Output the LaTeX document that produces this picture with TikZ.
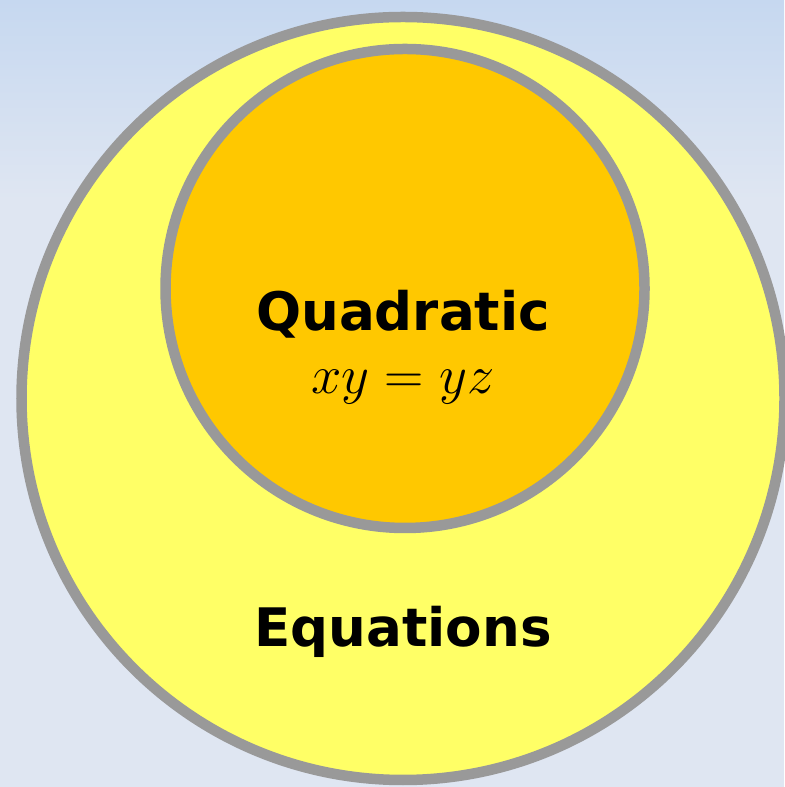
\documentclass[tikz,border=0pt]{standalone}
\usepackage{fix-cm}
\usepackage{fontspec}
\setsansfont{DejaVu Sans}
\usepackage{tikz}
\usepackage{xcolor}
\usetikzlibrary{positioning}
\definecolor{bgtop}{HTML}{C6D8F0}
\definecolor{bgbot}{HTML}{DFE6F2}
\definecolor{setrim}{HTML}{999999}
\definecolor{setyellow}{HTML}{FFFF66}
\definecolor{setorange}{HTML}{FFC800}
\tikzset{
  setouter/.style = {
    circle,
    draw=setrim,
    fill=setyellow,
    line width=2.1mm,
    inner sep=0pt,
    minimum size=152.6mm
  },
  setinner/.style = {
    circle,
    draw=setrim,
    fill=setorange,
    line width=2.1mm,
    inner sep=0pt,
    minimum size=95.8mm
  },
  setlabel/.style = {
    font=\sffamily\bfseries\fontsize{30.2}{36}\selectfont,
    anchor=base,
    inner sep=0pt
  },
  setformula/.style = {
    font=\fontsize{31}{36}\selectfont,
    anchor=base,
    inner sep=0pt
  }
}

\begin{document}
\begin{tikzpicture}
    \useasboundingbox (0,0) rectangle (15.68,15.74);
    % background
    \shade[top color=bgtop, bottom color=bgbot] (0,11.74) rectangle (15.68,15.74);
    \fill[bgbot] (0,0) rectangle (15.68,11.74);
    % sets
    \node[setouter] (equations) at (8.06,7.77) {};
    \node[setinner] (quadratic) at (8.1,9.97) {};
    % labels
    \node[setlabel] (quadname) at (8.06,9.12) {Quadratic};
    \node[setformula] (quadform) at (8.06,7.86) {$xy=yz$};
    \node[setlabel] (eqname) at (8.06,2.8) {Equations};
\end{tikzpicture}
\end{document}
